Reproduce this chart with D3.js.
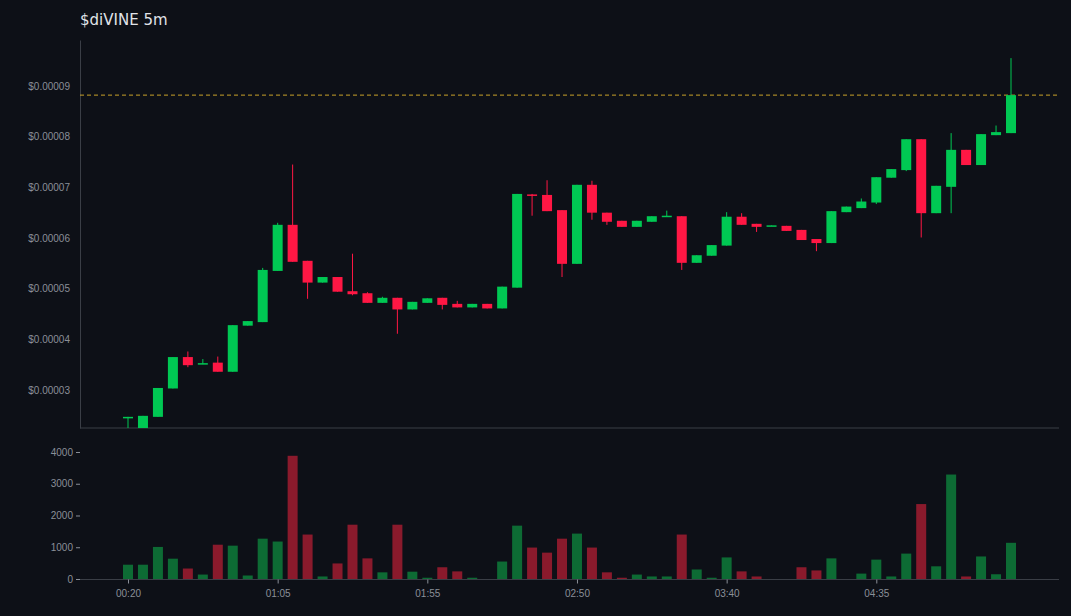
<!DOCTYPE html>
<html><head><meta charset="utf-8">
<script src="https://cdn.jsdelivr.net/npm/d3@7"></script>
<style>body{margin:0;background:#0d1017;}svg{display:block;font-family:"DejaVu Sans",sans-serif;}</style>
</head><body><svg id="c" width="1071" height="616"></svg>
<script>
// prices in units of 1e-5 USD
const opens  = [2.46,2.20,2.47,3.03,3.65,3.52,3.54,3.36,4.27,4.34,5.35,6.26,5.55,5.12,5.23,4.95,4.91,4.72,4.82,4.59,4.72,4.82,4.70,4.63,4.70,4.61,5.02,6.86,6.85,6.55,5.49,7.05,6.50,6.34,6.22,6.32,6.42,6.43,5.51,5.65,5.85,6.42,6.28,6.24,6.24,6.16,5.98,5.90,6.51,6.59,6.70,7.19,7.34,7.95,6.49,7.01,7.74,7.44,8.03,8.07];
const closes = [2.47,2.49,3.04,3.65,3.49,3.53,3.36,4.28,4.36,5.37,6.26,5.53,5.12,5.23,4.94,4.89,4.72,4.82,4.59,4.74,4.81,4.68,4.63,4.70,4.61,5.04,6.87,6.84,6.53,5.49,7.05,6.50,6.32,6.22,6.34,6.43,6.44,5.51,5.66,5.86,6.42,6.26,6.22,6.25,6.14,5.96,5.90,6.53,6.62,6.72,7.20,7.36,7.95,6.49,7.03,7.74,7.44,8.05,8.09,8.82];
const highs  = [2.47,2.49,3.04,3.65,3.76,3.61,3.66,4.28,4.36,5.41,6.30,7.45,5.55,5.23,5.23,5.69,4.93,4.84,4.82,4.74,4.81,4.82,4.76,4.70,4.70,5.04,6.87,6.87,7.14,6.55,7.05,7.13,6.50,6.34,6.34,6.43,6.54,6.43,5.66,5.86,6.51,6.49,6.28,6.25,6.24,6.16,5.98,6.53,6.62,6.78,7.20,7.36,7.95,7.95,7.03,8.07,7.74,8.05,8.22,9.55];
const lows   = [2.20,2.20,2.47,3.03,3.45,3.51,3.36,3.36,4.27,4.34,5.35,5.53,4.80,5.12,4.94,4.87,4.72,4.72,4.11,4.59,4.72,4.59,4.63,4.63,4.61,4.61,5.02,6.44,6.53,5.23,5.49,6.36,6.26,6.22,6.22,6.32,6.42,5.37,5.51,5.65,5.85,6.26,6.12,6.24,6.14,5.96,5.74,5.90,6.51,6.59,6.67,7.19,7.32,6.01,6.49,6.49,7.44,7.44,8.03,8.07];
const volumes = [450,450,1010,640,330,140,1080,1050,110,1270,1180,3880,1400,80,490,1710,650,210,1710,230,40,370,240,40,0,550,1680,990,830,1270,1430,990,210,40,140,80,80,1400,300,40,680,240,80,0,0,370,270,650,0,170,610,80,800,2360,400,3290,80,710,150,1140];
const priceTicks = [3,4,5,6,7,8,9];
const volTicks = [0,1000,2000,3000,4000];
const xTickIdx = [0,10,20,30,40,50];
const xTickLabels = ["00:20","01:05","01:55","02:50","03:40","04:35"];
const refLine = 8.82;
const title = "$diVINE 5m";

const svg = d3.select("#c");
svg.append("rect").attr("width",1071).attr("height",616).attr("fill","#0d1017");
const idx = d3.range(opens.length);
const x = d3.scalePoint().domain(idx).range([128, 1011]);
const bw = 10;
const y = d3.scaleLinear().domain([2.25,9.908]).range([428,40]);
const yv = d3.scaleLinear().domain([0,4283]).range([579,443]);
const G="#00c853", R="#ff1744", GV="#0d6b34", RV="#8a1a2c", TXT="#8a8f98", AX="#3a3e46";

svg.append("text").attr("x",80).attr("y",25).attr("fill","#e0e3e8").attr("font-size",15).text(title);
svg.append("clipPath").attr("id","pc").append("rect").attr("x",80).attr("y",40).attr("width",979).attr("height",388);

const ya = svg.append("g").attr("transform","translate(80,0)")
  .call(d3.axisLeft(y).tickValues(priceTicks).tickSize(0).tickPadding(10).tickFormat(d=>"$"+(d/1e5).toFixed(5)));
ya.select(".domain").attr("stroke",AX);
ya.selectAll("text").attr("fill",TXT).attr("font-size",10);
svg.append("line").attr("x1",80).attr("x2",1059).attr("y1",428).attr("y2",428).attr("stroke",AX);

const pg = svg.append("g").attr("clip-path","url(#pc)");
pg.append("line").attr("x1",80).attr("x2",1059).attr("y1",y(refLine)).attr("y2",y(refLine))
  .attr("stroke","#c9a22a").attr("stroke-dasharray","4,3").attr("stroke-width",1);
const up = i => closes[i]>=opens[i];
pg.selectAll(".w").data(idx).join("line")
  .attr("x1",i=>x(i)).attr("x2",i=>x(i))
  .attr("y1",i=>y(highs[i])).attr("y2",i=>y(lows[i]))
  .attr("stroke",i=>up(i)?G:R).attr("stroke-width",1);
pg.selectAll(".b").data(idx).join("rect")
  .attr("x",i=>x(i)-bw/2).attr("width",bw)
  .attr("y",i=>y(Math.max(opens[i],closes[i])))
  .attr("height",i=>Math.max(1.5,Math.abs(y(opens[i])-y(closes[i]))))
  .attr("fill",i=>up(i)?G:R);

svg.selectAll(".v").data(idx).join("rect")
  .attr("x",i=>x(i)-bw/2).attr("width",bw)
  .attr("y",i=>yv(volumes[i])).attr("height",i=>yv(0)-yv(volumes[i]))
  .attr("fill",i=>up(i)?GV:RV);
const va = svg.append("g").attr("transform","translate(80,0)")
  .call(d3.axisLeft(yv).tickValues(volTicks).tickSize(4).tickPadding(3).tickFormat(d3.format("d")));
va.select(".domain").remove();
va.selectAll("line").attr("stroke",TXT);
va.selectAll("text").attr("fill",TXT).attr("font-size",10);
svg.append("line").attr("x1",80).attr("x2",1059).attr("y1",579.5).attr("y2",579.5).attr("stroke",AX);
const xa = svg.append("g").attr("transform","translate(0,579.5)")
  .call(d3.axisBottom(x).tickValues(xTickIdx).tickSize(4).tickPadding(6).tickFormat((d,k)=>xTickLabels[k]));
xa.select(".domain").remove();
xa.selectAll("line").attr("stroke",TXT);
xa.selectAll("text").attr("fill",TXT).attr("font-size",10);
</script></body></html>
